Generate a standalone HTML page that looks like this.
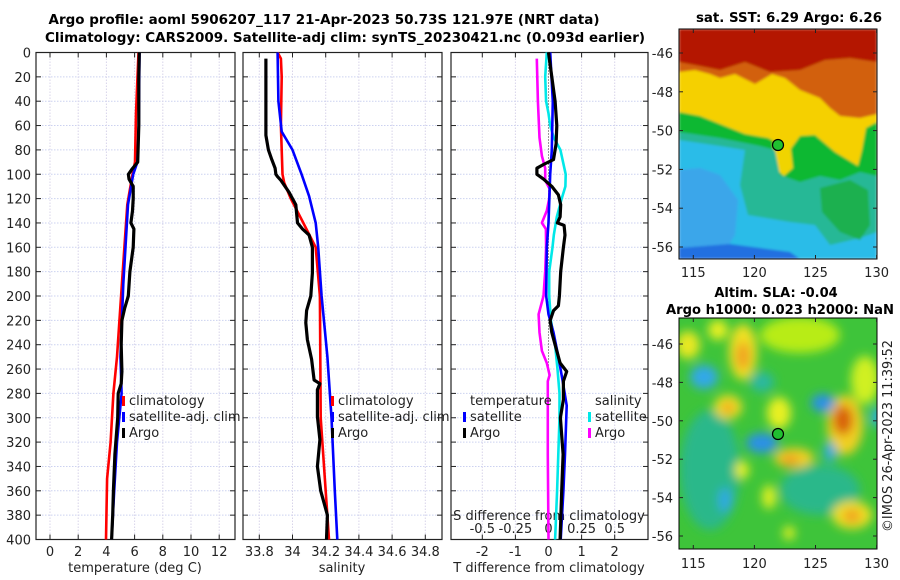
<!DOCTYPE html>
<html><head><meta charset="utf-8">
<style>
html,body{margin:0;padding:0;background:#fff;}
svg{display:block;font-family:"DejaVu Sans","Liberation Sans",sans-serif;}
</style></head>
<body>
<svg id="fig" width="900" height="580" viewBox="0 0 900 580" xmlns="http://www.w3.org/2000/svg">
<defs>
  <filter id="b1" x="-5%" y="-5%" width="110%" height="110%"><feGaussianBlur stdDeviation="1.2"/></filter>
  <filter id="b6" x="-50%" y="-50%" width="200%" height="200%"><feGaussianBlur stdDeviation="5"/></filter>
  <clipPath id="cm1"><rect x="679" y="29" width="198" height="230"/></clipPath>
  <clipPath id="cm2"><rect x="679" y="318" width="198" height="231"/></clipPath>
</defs>
<g font-weight="bold" font-size="13" text-anchor="middle" fill="#000">
  <text x="324" y="24" textLength="551" lengthAdjust="spacingAndGlyphs">Argo profile: aoml 5906207_117 21-Apr-2023 50.73S 121.97E (NRT data)</text>
  <text x="345" y="42" textLength="600" lengthAdjust="spacingAndGlyphs">Climatology: CARS2009. Satellite-adj clim: synTS_20230421.nc (0.093d earlier)</text>
  <text x="789" y="22" textLength="186" lengthAdjust="spacingAndGlyphs">sat. SST: 6.29 Argo: 6.26</text>
  <text x="776" y="297">Altim. SLA: -0.04</text>
  <text x="780" y="314" textLength="228" lengthAdjust="spacingAndGlyphs">Argo h1000: 0.023 h2000: NaN</text>
</g>
<g id="panels"></g>

<!-- SST map -->
<g>
 <g clip-path="url(#cm1)" filter="url(#b1)">
  <rect x="679" y="29" width="198" height="230" fill="#b41800"/>
  <path d="M679,62 L700,66 L720,70 L745,62 L770,72 L800,70 L825,60 L850,58 L877,62 L877,259 L679,259Z" fill="#d2600c"/>
  <path d="M679,72 L695,70 L710,74 L720,78 L735,74 L755,84 L772,74 L785,78 L800,90 L820,98 L830,108 L840,116 L860,118 L877,114 L877,259 L679,259Z" fill="#f5d000"/>
  <path d="M679,112 L700,116 L720,124 L745,134 L768,138 L790,150 L800,136 L815,135 L835,152 L858,166 L862,150 L866,128 L877,122 L877,259 L679,259Z" fill="#10b832"/>
  <path d="M773,142 L790,140 L793,168 L784,176 L775,168Z" fill="#f0d400"/>
  <path d="M679,132 L720,138 L760,146 L775,150 L780,175 L800,182 L820,176 L840,180 L860,172 L877,176 L877,259 L679,259Z" fill="#28b896"/>
  <path d="M679,140 L720,146 L745,150 L740,185 L748,215 L790,222 L815,225 L830,245 L860,238 L877,232 L877,259 L679,259Z" fill="#2cbce8"/>
  <path d="M820,188 L850,180 L868,190 L870,225 L860,240 L840,232 L822,212Z" fill="#1cb050"/>
  <path d="M679,170 L700,168 L720,175 L738,200 L735,235 L720,259 L679,259Z" fill="#3aa6ea"/>
  <path d="M679,248 L730,244 L790,252 L800,259 L679,259Z" fill="#2070e0"/>
 </g>
 <rect x="679" y="29" width="198" height="230" fill="none" stroke="#000" stroke-width="1"/>
 <circle cx="778" cy="145" r="5.5" fill="#20c030" stroke="#000" stroke-width="1.2"/>
</g>

<!-- SLA map -->
<g>
 <g clip-path="url(#cm2)">
  <rect x="679" y="318" width="198" height="231" fill="#3ec43a"/>
  <g filter="url(#b6)">
   <ellipse cx="710" cy="470" rx="30" ry="60" fill="#2cb88a"/>
   <ellipse cx="820" cy="490" rx="40" ry="25" fill="#2cb88a"/>
   <ellipse cx="800" cy="335" rx="40" ry="18" fill="#b8ec18"/>
   <ellipse cx="865" cy="380" rx="14" ry="24" fill="#d0f020"/>
   <ellipse cx="688" cy="345" rx="12" ry="14" fill="#e8e820"/>
   <ellipse cx="718" cy="330" rx="10" ry="10" fill="#e8f020"/>
   <ellipse cx="743" cy="352" rx="14" ry="28" fill="#f0e020"/>
   <ellipse cx="743" cy="356" rx="7" ry="14" fill="#f0a020"/>
   <ellipse cx="728" cy="407" rx="14" ry="12" fill="#f0e020"/>
   <ellipse cx="728" cy="408" rx="6" ry="6" fill="#f0a020"/>
   <ellipse cx="779" cy="413" rx="12" ry="16" fill="#e8f020"/>
   <ellipse cx="794" cy="458" rx="20" ry="10" fill="#f0d020"/>
   <ellipse cx="790" cy="460" rx="9" ry="6" fill="#f0a020"/>
   <ellipse cx="845" cy="425" rx="18" ry="30" fill="#f0d020"/>
   <ellipse cx="843" cy="420" rx="10" ry="15" fill="#d86010"/>
   <ellipse cx="852" cy="515" rx="20" ry="14" fill="#f0e020"/>
   <ellipse cx="852" cy="516" rx="9" ry="7" fill="#f0a020"/>
   <ellipse cx="742" cy="470" rx="7" ry="9" fill="#e8f020"/>
   <ellipse cx="769" cy="497" rx="7" ry="12" fill="#e0f020"/>
   <ellipse cx="789" cy="533" rx="6" ry="7" fill="#e0f020"/>
   <ellipse cx="704" cy="377" rx="14" ry="12" fill="#30a8e8"/>
   <ellipse cx="762" cy="443" rx="16" ry="10" fill="#2a90e8"/>
   <ellipse cx="823" cy="403" rx="12" ry="9" fill="#2a90e8"/>
   <ellipse cx="725" cy="500" rx="6" ry="12" fill="#30a8e8"/>
   <ellipse cx="830" cy="452" rx="6" ry="10" fill="#30a8e8"/>
   <ellipse cx="878" cy="417" rx="7" ry="10" fill="#30b0e0"/>
   <ellipse cx="762" cy="382" rx="12" ry="10" fill="#2cb8a0"/>
  </g>
 </g>
 <rect x="679" y="318" width="198" height="231" fill="none" stroke="#000" stroke-width="1"/>
 <circle cx="778" cy="434" r="5.5" fill="#20c030" stroke="#000" stroke-width="1.2"/>
</g>
<g id="maxes"></g>
<text transform="translate(892,436) rotate(-90)" text-anchor="middle" font-size="13" fill="#222" textLength="192" lengthAdjust="spacingAndGlyphs">©IMOS 26-Apr-2023 11:39:52</text>
</svg>
<script>
// ---- data ----
const depthTicks = [0,20,40,60,80,100,120,140,160,180,200,220,240,260,280,300,320,340,360,380,400];
const tempTicks = [0,2,4,6,8,10,12];
const salTicks = [33.8,34,34.2,34.4,34.6,34.8];
const salTickLabels = ["33.8","34","34.2","34.4","34.6","34.8"];
const tdiffTicks = [-2,-1,0,1,2];
const sdiffTicks = [-0.5,-0.25,0,0.25,0.5];
const sdiffTickLabels = ["-0.5","-0.25","0","0.25","0.5"];

const tClimDepth = [0,50,90,100,125,190,250,280,320,350,400];
const tClimVal   = [6.28,6.1,6.03,5.85,5.48,5.1,4.75,4.5,4.3,4.05,3.97];
const tSatDepth  = [0,60,90,100,125,190,250,280,320,360,400];
const tSatVal    = [6.35,6.3,6.2,5.9,5.53,5.2,5.0,5.08,4.75,4.55,4.37];
const tArgoDepth = [0,20,60,90,96,100,104,110,120,130,140,145,160,180,200,210,220,240,262,272,280,300,330,360,380,400];
const tArgoVal   = [6.33,6.3,6.3,6.22,5.8,5.56,5.6,5.9,5.9,5.85,5.74,5.95,5.9,5.67,5.55,5.3,5.1,5.05,5.1,5.05,4.84,4.8,4.6,4.5,4.45,4.37];

const sClimDepth = [0,5,20,60,100,107,120,140,160,200,300,400];
const sClimVal   = [33.91,33.93,33.935,33.93,33.94,33.95,33.99,34.065,34.14,34.165,34.17,34.22];
const sSatDepth  = [0,40,65,80,100,118,140,160,200,250,300,360,400];
const sSatVal    = [33.91,33.915,33.935,34.0,34.055,34.1,34.14,34.155,34.175,34.21,34.235,34.255,34.27];
const sArgoDepth = [5,68,80,88,95,100,102,105,115,125,140,145,150,160,181,200,212,222,236,252,269,272,277,299,318,340,360,380,400];
const sArgoVal   = [33.84,33.84,33.855,33.875,33.895,33.9,33.91,33.93,33.98,34.02,34.03,34.06,34.1,34.12,34.12,34.11,34.085,34.08,34.09,34.115,34.13,34.165,34.15,34.15,34.165,34.15,34.17,34.21,34.205];

const dTSatDepth = [0,40,80,100,140,160,200,215,230,250,270,290,330,360,400];
const dTSatVal   = [0.05,0.13,0.1,0.05,0.0,-0.05,-0.07,0.0,0.15,0.3,0.43,0.55,0.5,0.45,0.37];
const dTArgoDepth= [0,20,40,60,75,88,92,95,100,104,110,117,125,135,140,142,150,160,180,200,208,212,220,230,240,255,262,270,285,300,330,360,400];
const dTArgoVal  = [0,0.1,0.2,0.25,0.23,0.15,-0.15,-0.35,-0.35,-0.15,0.1,0.3,0.37,0.35,0.27,0.47,0.5,0.45,0.37,0.33,0.3,0.15,0.05,0.1,0.2,0.35,0.55,0.45,0.45,0.36,0.44,0.4,0.35];
const dSSatDepth = [0,20,40,50,60,70,80,100,110,120,135,150,160,180,200,220,240,260,280,300,360,400];
const dSSatVal   = [-0.013,-0.025,-0.018,0,0.013,0.04,0.09,0.13,0.128,0.1,0.063,0.04,0.03,0.005,0.005,0.018,0.05,0.068,0.083,0.083,0.065,0.05];
const dSArgoDepth= [5,40,70,85,95,105,112,120,130,140,145,160,180,200,215,230,245,255,265,270,290,330,400];
const dSArgoVal  = [-0.088,-0.08,-0.068,-0.05,-0.025,-0.025,0.008,0.005,-0.013,-0.05,-0.02,-0.018,-0.025,-0.038,-0.075,-0.068,-0.05,-0.013,0.008,-0.005,-0.005,-0.005,0];

const mapLonTicks = [115,120,125,130];
const mapLatTicks = [-46,-48,-50,-52,-54,-56];

// ---- layout ----
const NS='http://www.w3.org/2000/svg';
const TOP=52.5, BOT=539.5;
const yD = d => TOP + d*(BOT-TOP)/400;
const xT = t => 50 + t*14.1;
const xS = s => 259.3 + (s-33.8)*166;
const xDT = d => 548.5 + d*33.1;
const xDS = s => 548.5 + s*132.4;
const panels=[{x0:36,x1:235},{x0:243,x1:442},{x0:451,x1:648}];
const root=document.getElementById('panels');
function mk(tag,attrs,parent){const e=document.createElementNS(NS,tag);for(const k in attrs)e.setAttribute(k,attrs[k]);(parent||root).appendChild(e);return e;}
function txt(x,y,s,anchor,parent,size){const e=mk('text',{x:x,y:y,'text-anchor':anchor||'middle','font-size':size||13,fill:'#222'},parent);e.textContent=s;return e;}

panels.forEach((p,i)=>{
  const g=mk('g',{});
  
  
  depthTicks.forEach(d=>{
    if(d>0&&d<400){const l=mk('line',{x1:p.x0,x2:p.x1,y1:yD(d),y2:yD(d),stroke:'#ccd2f0','stroke-width':1,'stroke-dasharray':'1.5,1.5'},g);
    
    }
    mk('line',{x1:p.x0,x2:p.x0+5,y1:yD(d),y2:yD(d),stroke:'#222'},g);
    mk('line',{x1:p.x1-5,x2:p.x1,y1:yD(d),y2:yD(d),stroke:'#222'},g);
  });
  const vt = i==0?tempTicks.map(xT):i==1?salTicks.map(xS):tdiffTicks.map(xDT);
  vt.forEach(x=>{
    if(!(i==2&&Math.abs(x-548.5)<1)){const l=mk('line',{x1:x,x2:x,y1:TOP,y2:BOT,stroke:'#d8d4ea','stroke-width':1,'stroke-dasharray':'1.5,1.5'},g);
    
    }
    mk('line',{x1:x,x2:x,y1:TOP,y2:TOP+5,stroke:'#222'},g);
    mk('line',{x1:x,x2:x,y1:BOT-5,y2:BOT,stroke:'#222'},g);
  });
  if(i==2){mk('line',{x1:548.5,x2:548.5,y1:TOP,y2:BOT,stroke:'#333','stroke-width':1,'stroke-dasharray':'1,2'},g);}
  const fr=mk('rect',{x:p.x0,y:TOP,width:p.x1-p.x0,height:BOT-TOP,fill:'none',stroke:'#222','stroke-width':1.2},g);
  
  
});
// y tick labels
const yl=mk('g',{});


depthTicks.forEach(d=>txt(31,yD(d)+5,String(d),'end',yl));
// x tick labels
const xl=mk('g',{});


tempTicks.forEach(t=>txt(xT(t),556,String(t),'middle',xl));
salTicks.forEach((s,k)=>txt(xS(s),556,salTickLabels[k],'middle',xl));
tdiffTicks.forEach(t=>txt(xDT(t),556,String(t),'middle',xl));
sdiffTicks.forEach((s,k)=>txt(xDS(s),533,sdiffTickLabels[k],'middle',xl));
const t1=txt(135,572,'temperature (deg C)','middle',xl); 
const t2=txt(342,572,'salinity','middle',xl); 
const t3=txt(549,572,'T difference from climatology','middle',xl); 
const t4=txt(549,520,'S difference from climatology','middle',xl); 

function line(depths,vals,xf,color,name,w){
  const pts=depths.map((d,k)=>xf(vals[k]).toFixed(1)+','+yD(d).toFixed(1)).join(' ');
  const e=mk('polyline',{points:pts,fill:'none',stroke:color,'stroke-width':w||2.6,'stroke-linejoin':'round'});
  
  
}
line(tClimDepth,tClimVal,xT,'#ff0000','temp-climatology-line');
line(tSatDepth,tSatVal,xT,'#0000ff','temp-satellite-line');
line(tArgoDepth,tArgoVal,xT,'#000','temp-argo-line',3.2);
line(sClimDepth,sClimVal,xS,'#ff0000','sal-climatology-line');
line(sSatDepth,sSatVal,xS,'#0000ff','sal-satellite-line');
line(sArgoDepth,sArgoVal,xS,'#000','sal-argo-line',3.2);
line(dSArgoDepth,dSArgoVal,xDS,'#ff00ff','sdiff-argo-line');
line(dSSatDepth,dSSatVal,xDS,'#00e8e8','sdiff-satellite-line');
line(dTSatDepth,dTSatVal,xDT,'#0000ff','tdiff-satellite-line');
line(dTArgoDepth,dTArgoVal,xDT,'#000','tdiff-argo-line',3.2);

// legends
function leg(x,y,color,label,name){
  const g=mk('g',{});
  
  
  mk('rect',{x:x,y:y-9,width:3,height:10,fill:color},g);
  txt(x+7,y,label,'start',g);
}
leg(122,405,'#ff0000','climatology','legend-entry-climatology');
leg(122,421,'#0000ff','satellite-adj. clim','legend-entry-satellite');
leg(122,437,'#000','Argo','legend-entry-argo');
leg(331,405,'#ff0000','climatology','legend-entry-climatology-2');
leg(331,421,'#0000ff','satellite-adj. clim','legend-entry-satellite-2');
leg(331,437,'#000','Argo','legend-entry-argo-2');
const th=txt(470,405,'temperature','start'); 
const sh=txt(595,405,'salinity','start'); 
leg(463,421,'#0000ff','satellite','legend-entry-t-satellite');
leg(463,437,'#000','Argo','legend-entry-t-argo');
leg(588,421,'#00e8e8','satellite','legend-entry-s-satellite');
leg(588,437,'#ff00ff','Argo','legend-entry-s-argo');

// map axes
const ma=document.getElementById('maxes');
const lonX = lon => 693.3 + (lon-115)*12.22;
[[29,259,53,19.4,272],[318,549,344,19.2,563]].forEach((m,i)=>{
  const g=document.createElementNS(NS,'g');
  
  
  ma.appendChild(g);
  mapLatTicks.forEach(lat=>{
    const y=m[2]+(-46-lat)*m[3];
    mk('line',{x1:679,x2:683,y1:y,y2:y,stroke:'#222'},g);
    mk('line',{x1:873,x2:877,y1:y,y2:y,stroke:'#222'},g);
    txt(673,y+5,String(lat),'end',g);
  });
  mapLonTicks.forEach(lon=>{
    const x=lonX(lon);
    mk('line',{x1:x,x2:x,y1:m[1]-4,y2:m[1],stroke:'#222'},g);
    mk('line',{x1:x,x2:x,y1:m[0],y2:m[0]+4,stroke:'#222'},g);
    txt(x,m[4]+5,String(lon),'middle',g);
  });
});
</script>
</body></html>
